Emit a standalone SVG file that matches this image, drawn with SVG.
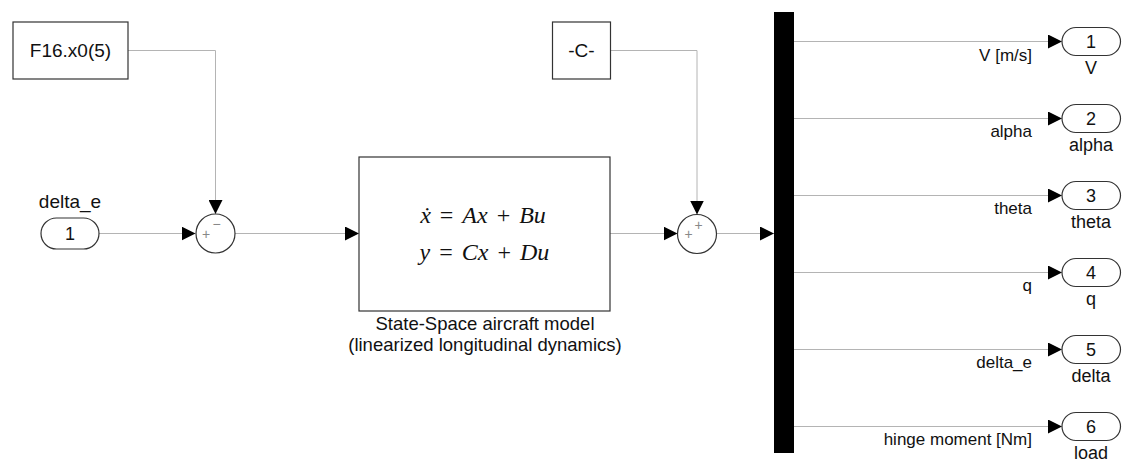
<svg xmlns="http://www.w3.org/2000/svg" width="1122" height="463" viewBox="0 0 1122 463">
<style>
.blk{fill:#fff;stroke:#333;stroke-width:1.2}
.ln{fill:none;stroke:#b4b4b4;stroke-width:1}
.t{font-family:"Liberation Sans",Arial,sans-serif;fill:#111}
.lbl{font-family:"Liberation Sans",Arial,sans-serif;fill:#111;font-size:17px;text-anchor:end}
.olbl{font-family:"Liberation Sans",Arial,sans-serif;fill:#111;font-size:18px;text-anchor:middle}
.num{font-family:"Liberation Sans",Arial,sans-serif;fill:#111;font-size:18px;text-anchor:middle}
.sg{font-family:"Liberation Sans",Arial,sans-serif;fill:#888;font-size:14px;text-anchor:middle}
.eq{font-family:"Liberation Serif","Times New Roman",serif;font-size:24px;fill:#111;text-anchor:middle;word-spacing:3px}
</style>
<defs>
<marker id="ah" viewBox="0 0 14 14" refX="14" refY="7" markerWidth="14" markerHeight="14" markerUnits="userSpaceOnUse" orient="auto">
<path d="M0,0 L14,7 L0,14 Z" fill="#000"/>
</marker>
</defs>

<g id="connectors">
<path class="ln" d="M128,50.5 H215.5 V214" marker-end="url(#ah)"/>
<path class="ln" d="M99,233.5 H195.5" marker-end="url(#ah)"/>
<path class="ln" d="M235,233.5 H359" marker-end="url(#ah)"/>
<path class="ln" d="M610,50.5 H697 V214.5" marker-end="url(#ah)"/>
<path class="ln" d="M610,233.5 H677.5" marker-end="url(#ah)"/>
<path class="ln" d="M716.5,233.5 H774" marker-end="url(#ah)"/>
<path class="ln" d="M794,41.5 H1062" marker-end="url(#ah)"/>
<path class="ln" d="M794,118.5 H1062" marker-end="url(#ah)"/>
<path class="ln" d="M794,195.5 H1062" marker-end="url(#ah)"/>
<path class="ln" d="M794,272.5 H1062" marker-end="url(#ah)"/>
<path class="ln" d="M794,349.5 H1062" marker-end="url(#ah)"/>
<path class="ln" d="M794,426.5 H1062" marker-end="url(#ah)"/>
<text class="lbl" x="1032" y="61">V [m/s]</text>
<text class="lbl" x="1032" y="137">alpha</text>
<text class="lbl" x="1032" y="214">theta</text>
<text class="lbl" x="1032" y="291">q</text>
<text class="lbl" x="1032" y="368">delta_e</text>
<text class="lbl" x="1032" y="445">hinge moment [Nm]</text>
</g>

<g id="const_f16">
<rect class="blk" x="13" y="22" width="115" height="57"/>
<text class="t" x="70.5" y="57" font-size="19" text-anchor="middle">F16.x0(5)</text>
</g>

<g id="inport_delta_e">
<rect class="blk" x="41" y="218" width="58" height="31" rx="15.5" ry="15.5"/>
<text class="num" x="70" y="240">1</text>
<text class="t" x="70" y="208" font-size="19" text-anchor="middle">delta_e</text>
</g>

<g id="sum1">
<circle class="blk" cx="215.5" cy="233.5" r="19.5"/>
<text class="sg" x="206" y="239">+</text>
<text class="sg" x="216.5" y="229">−</text>
</g>

<g id="statespace">
<rect class="blk" x="359" y="157" width="251" height="154"/>
<text class="eq" x="483" y="223"><tspan font-style="italic">ẋ</tspan> = <tspan font-style="italic">Ax</tspan> + <tspan font-style="italic">Bu</tspan></text>
<text class="eq" x="484.5" y="259.5"><tspan font-style="italic">y</tspan> = <tspan font-style="italic">Cx</tspan> + <tspan font-style="italic">Du</tspan></text>
<text class="t" x="485" y="330" font-size="18.5" text-anchor="middle">State-Space aircraft model</text>
<text class="t" x="485" y="351" font-size="18.5" text-anchor="middle">(linearized longitudinal dynamics)</text>
</g>

<g id="const_c">
<rect class="blk" x="552.5" y="22" width="58" height="57"/>
<text class="t" x="581.5" y="57" font-size="19" text-anchor="middle">-C-</text>
</g>

<g id="sum2">
<circle class="blk" cx="697" cy="234" r="19.5"/>
<text class="sg" x="688.5" y="239">+</text>
<text class="sg" x="698.5" y="230">+</text>
</g>

<g id="demux">
<rect x="774" y="12" width="20" height="441" fill="#000"/>
</g>

<g id="out1">
<rect class="blk" x="1062" y="27.5" width="58.5" height="28" rx="14" ry="14"/>
<text class="num" x="1091" y="48">1</text>
<text class="olbl" x="1091" y="74">V</text>
</g>
<g id="out2">
<rect class="blk" x="1062" y="104.5" width="58.5" height="28" rx="14" ry="14"/>
<text class="num" x="1091" y="125">2</text>
<text class="olbl" x="1091" y="151">alpha</text>
</g>
<g id="out3">
<rect class="blk" x="1062" y="181.5" width="58.5" height="28" rx="14" ry="14"/>
<text class="num" x="1091" y="202">3</text>
<text class="olbl" x="1091" y="228">theta</text>
</g>
<g id="out4">
<rect class="blk" x="1062" y="258.5" width="58.5" height="28" rx="14" ry="14"/>
<text class="num" x="1091" y="279">4</text>
<text class="olbl" x="1091" y="305">q</text>
</g>
<g id="out5">
<rect class="blk" x="1062" y="335.5" width="58.5" height="28" rx="14" ry="14"/>
<text class="num" x="1091" y="356">5</text>
<text class="olbl" x="1091" y="382">delta</text>
</g>
<g id="out6">
<rect class="blk" x="1062" y="412.5" width="58.5" height="28" rx="14" ry="14"/>
<text class="num" x="1091" y="433">6</text>
<text class="olbl" x="1091" y="459">load</text>
</g>
</svg>
